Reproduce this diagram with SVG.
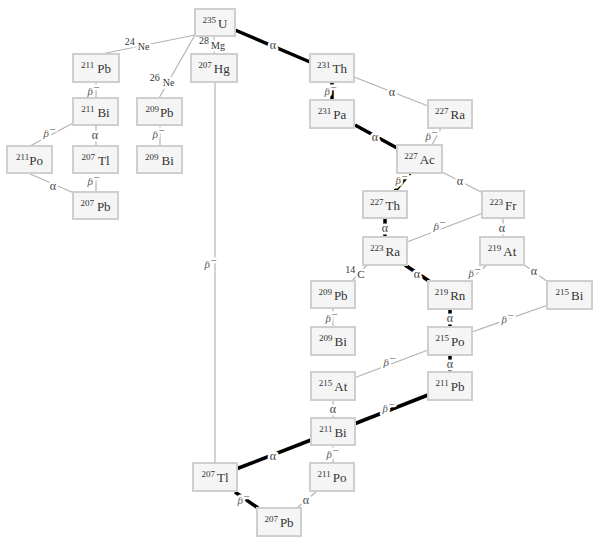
<svg xmlns="http://www.w3.org/2000/svg" width="596" height="545" viewBox="0 0 596 545">
<style>
.box{fill:#f5f5f5;stroke:#cfcfcf;stroke-width:2}
.nt{font-family:"Liberation Serif",serif;font-size:13px;fill:#333;text-anchor:middle}
.m{font-size:9px}
.thin{stroke:#b3b3b3;stroke-width:1.2;fill:none}
.thick{stroke:#000;stroke-width:3.5;fill:none}
.lbl{font-family:"Liberation Serif",serif;fill:#444;text-anchor:middle;paint-order:stroke;stroke:#fff;stroke-width:5px;stroke-linejoin:round}
.a{font-size:12px}
.b{font-size:11px;font-style:italic;fill:#555}
.s{font-size:10px;fill:#333}
</style>
<rect width="596" height="545" fill="#fff"/>
<g id="connectors">
<line class="thin" x1="195" y1="35" x2="101" y2="54"/>
<line class="thin" x1="195" y1="35" x2="159" y2="98"/>
<line class="thin" x1="214" y1="36" x2="214" y2="54"/>
<line class="thick" x1="235" y1="30" x2="310" y2="62"/>
<line class="thick" x1="332" y1="82" x2="332" y2="100"/>
<line class="thin" x1="354" y1="77" x2="428" y2="106"/>
<line class="thick" x1="355" y1="125" x2="397" y2="148"/>
<line class="thin" x1="441" y1="128" x2="432" y2="145"/>
<line class="thick" x1="410" y1="173" x2="395" y2="191"/>
<line class="thin" x1="442" y1="172" x2="483" y2="193"/>
<line class="thick" x1="385" y1="218" x2="385" y2="237"/>
<line class="thin" x1="483" y1="213" x2="407" y2="242"/>
<line class="thin" x1="503" y1="218" x2="503" y2="237"/>
<line class="thin" x1="367" y1="265" x2="352" y2="281"/>
<line class="thick" x1="405" y1="265" x2="429" y2="281"/>
<line class="thin" x1="487" y1="265" x2="468" y2="281"/>
<line class="thin" x1="523" y1="264" x2="548" y2="282"/>
<line class="thick" x1="450" y1="309" x2="450" y2="327"/>
<line class="thin" x1="548" y1="305" x2="472" y2="332"/>
<line class="thin" x1="333" y1="308" x2="333" y2="327"/>
<line class="thin" x1="428" y1="350" x2="354" y2="378"/>
<line class="thick" x1="450" y1="355" x2="450" y2="372"/>
<line class="thin" x1="333" y1="400" x2="333" y2="418"/>
<line class="thick" x1="428" y1="395" x2="354" y2="424"/>
<line class="thick" x1="311" y1="440" x2="236" y2="469"/>
<line class="thin" x1="333" y1="445" x2="333" y2="463"/>
<line class="thick" x1="235" y1="492" x2="258" y2="508"/>
<line class="thin" x1="316" y1="492" x2="297" y2="508"/>
<line class="thin" x1="215" y1="82" x2="215" y2="463"/>
<line class="thin" x1="96" y1="82" x2="96" y2="98"/>
<line class="thin" x1="75" y1="122" x2="30" y2="146"/>
<line class="thin" x1="96" y1="125" x2="96" y2="146"/>
<line class="thin" x1="28" y1="173" x2="74" y2="193"/>
<line class="thin" x1="96" y1="173" x2="96" y2="192"/>
<line class="thin" x1="160" y1="125" x2="160" y2="146"/>
<text class="lbl s" x="137" y="48"><tspan dy="-3">24</tspan><tspan dx="3" dy="5">Ne</tspan></text>
<text class="lbl s" x="162" y="84"><tspan dy="-3">26</tspan><tspan dx="3" dy="5">Ne</tspan></text>
<text class="lbl s" x="212" y="47"><tspan dy="-3">28</tspan><tspan dx="2" dy="5">Mg</tspan></text>
<text class="lbl a" x="273" y="49">α</text>
<text class="lbl b" x="331" y="95">β<tspan dy="-4">−</tspan></text>
<text class="lbl a" x="392" y="96">α</text>
<text class="lbl a" x="375" y="141">α</text>
<text class="lbl b" x="432" y="140">β<tspan dy="-4">−</tspan></text>
<text class="lbl b" x="402" y="184">β<tspan dy="-4">−</tspan></text>
<text class="lbl a" x="460" y="185">α</text>
<text class="lbl a" x="385" y="232">α</text>
<text class="lbl b" x="440" y="230">β<tspan dy="-4">−</tspan></text>
<text class="lbl a" x="502" y="232">α</text>
<text class="lbl s" x="355" y="276"><tspan dy="-3">14</tspan><tspan dx="2" dy="5" font-size="11">C</tspan></text>
<text class="lbl a" x="417" y="278">α</text>
<text class="lbl b" x="475" y="277">β<tspan dy="-4">−</tspan></text>
<text class="lbl a" x="534" y="275">α</text>
<text class="lbl a" x="450" y="322">α</text>
<text class="lbl b" x="508" y="323">β<tspan dy="-4">−</tspan></text>
<text class="lbl b" x="332" y="322">β<tspan dy="-4">−</tspan></text>
<text class="lbl b" x="390" y="366">β<tspan dy="-4">−</tspan></text>
<text class="lbl a" x="450" y="368">α</text>
<text class="lbl a" x="333" y="413">α</text>
<text class="lbl b" x="389" y="412">β<tspan dy="-4">−</tspan></text>
<text class="lbl a" x="273" y="460">α</text>
<text class="lbl b" x="333" y="458">β<tspan dy="-4">−</tspan></text>
<text class="lbl b" x="244" y="504">β<tspan dy="-4">−</tspan></text>
<text class="lbl a" x="306" y="504">α</text>
<text class="lbl b" x="211" y="268">β<tspan dy="-4">−</tspan></text>
<text class="lbl b" x="94" y="95">β<tspan dy="-4">−</tspan></text>
<text class="lbl b" x="50" y="137">β<tspan dy="-4">−</tspan></text>
<text class="lbl a" x="95" y="139">α</text>
<text class="lbl a" x="53" y="190">α</text>
<text class="lbl b" x="94" y="185">β<tspan dy="-4">−</tspan></text>
<text class="lbl b" x="159" y="138">β<tspan dy="-4">−</tspan></text>
</g>
<g id="n-U235"><rect class="box" x="195" y="9" width="40" height="27"/><text class="nt" x="215" y="28"><tspan class="m" dy="-5">235</tspan><tspan dx="2" dy="5">U</tspan></text></g>
<g id="n-Hg207"><rect class="box" x="191" y="54" width="46" height="28"/><text class="nt" x="214" y="73"><tspan class="m" dy="-5">207</tspan><tspan dx="2" dy="5">Hg</tspan></text></g>
<g id="n-Th231"><rect class="box" x="310" y="54" width="44" height="28"/><text class="nt" x="332" y="73"><tspan class="m" dy="-5">231</tspan><tspan dx="2" dy="5">Th</tspan></text></g>
<g id="n-Pa231"><rect class="box" x="310" y="100" width="44" height="28"/><text class="nt" x="332" y="119"><tspan class="m" dy="-5">231</tspan><tspan dx="2" dy="5">Pa</tspan></text></g>
<g id="n-Ra227"><rect class="box" x="428" y="100" width="44" height="28"/><text class="nt" x="450" y="119"><tspan class="m" dy="-5">227</tspan><tspan dx="2" dy="5">Ra</tspan></text></g>
<g id="n-Ac227"><rect class="box" x="397" y="145" width="45" height="28"/><text class="nt" x="419.5" y="164"><tspan class="m" dy="-5">227</tspan><tspan dx="2" dy="5">Ac</tspan></text></g>
<g id="n-Th227"><rect class="box" x="363" y="191" width="44" height="27"/><text class="nt" x="385" y="210"><tspan class="m" dy="-5">227</tspan><tspan dx="2" dy="5">Th</tspan></text></g>
<g id="n-Fr223"><rect class="box" x="482" y="191" width="42" height="27"/><text class="nt" x="503" y="210"><tspan class="m" dy="-5">223</tspan><tspan dx="2" dy="5">Fr</tspan></text></g>
<g id="n-Ra223"><rect class="box" x="363" y="237" width="44" height="28"/><text class="nt" x="385" y="256"><tspan class="m" dy="-5">223</tspan><tspan dx="2" dy="5">Ra</tspan></text></g>
<g id="n-At219"><rect class="box" x="480" y="237" width="44" height="28"/><text class="nt" x="502" y="256"><tspan class="m" dy="-5">219</tspan><tspan dx="2" dy="5">At</tspan></text></g>
<g id="n-Rn219"><rect class="box" x="428" y="281" width="44" height="28"/><text class="nt" x="450" y="300"><tspan class="m" dy="-5">219</tspan><tspan dx="2" dy="5">Rn</tspan></text></g>
<g id="n-Bi215"><rect class="box" x="547" y="281" width="45" height="28"/><text class="nt" x="569.5" y="300"><tspan class="m" dy="-5">215</tspan><tspan dx="2" dy="5">Bi</tspan></text></g>
<g id="n-Pb209b"><rect class="box" x="311" y="281" width="44" height="27"/><text class="nt" x="333" y="300"><tspan class="m" dy="-5">209</tspan><tspan dx="2" dy="5">Pb</tspan></text></g>
<g id="n-Bi209b"><rect class="box" x="311" y="327" width="44" height="28"/><text class="nt" x="333" y="346"><tspan class="m" dy="-5">209</tspan><tspan dx="2" dy="5">Bi</tspan></text></g>
<g id="n-Po215"><rect class="box" x="428" y="327" width="44" height="28"/><text class="nt" x="450" y="346"><tspan class="m" dy="-5">215</tspan><tspan dx="2" dy="5">Po</tspan></text></g>
<g id="n-At215"><rect class="box" x="311" y="372" width="44" height="28"/><text class="nt" x="333" y="391"><tspan class="m" dy="-5">215</tspan><tspan dx="2" dy="5">At</tspan></text></g>
<g id="n-Pb211b"><rect class="box" x="428" y="372" width="44" height="28"/><text class="nt" x="450" y="391"><tspan class="m" dy="-5">211</tspan><tspan dx="2" dy="5">Pb</tspan></text></g>
<g id="n-Bi211b"><rect class="box" x="311" y="418" width="44" height="27"/><text class="nt" x="333" y="437"><tspan class="m" dy="-5">211</tspan><tspan dx="2" dy="5">Bi</tspan></text></g>
<g id="n-Tl207b"><rect class="box" x="193" y="463" width="44" height="28"/><text class="nt" x="215" y="482"><tspan class="m" dy="-5">207</tspan><tspan dx="2" dy="5">Tl</tspan></text></g>
<g id="n-Po211b"><rect class="box" x="310" y="463" width="44" height="28"/><text class="nt" x="332" y="482"><tspan class="m" dy="-5">211</tspan><tspan dx="2" dy="5">Po</tspan></text></g>
<g id="n-Pb207b"><rect class="box" x="257" y="508" width="44" height="28"/><text class="nt" x="279" y="527"><tspan class="m" dy="-5">207</tspan><tspan dx="2" dy="5">Pb</tspan></text></g>
<g id="n-Pb211a"><rect class="box" x="73" y="54" width="46" height="28"/><text class="nt" x="96" y="73"><tspan class="m" dy="-5">211</tspan><tspan dx="3" dy="5">Pb</tspan></text></g>
<g id="n-Bi211a"><rect class="box" x="73" y="98" width="45" height="27"/><text class="nt" x="95.5" y="117"><tspan class="m" dy="-5">211</tspan><tspan dx="3" dy="5">Bi</tspan></text></g>
<g id="n-Pb209a"><rect class="box" x="137" y="98" width="45" height="27"/><text class="nt" x="159.5" y="117"><tspan class="m" dy="-5">209</tspan><tspan dx="1" dy="5">Pb</tspan></text></g>
<g id="n-Po211a"><rect class="box" x="7" y="146" width="45" height="27"/><text class="nt" x="29.5" y="165"><tspan class="m" dy="-5">211</tspan><tspan dy="5">Po</tspan></text></g>
<g id="n-Tl207a"><rect class="box" x="73" y="146" width="45" height="27"/><text class="nt" x="95.5" y="165"><tspan class="m" dy="-5">207</tspan><tspan dx="3" dy="5">Tl</tspan></text></g>
<g id="n-Bi209a"><rect class="box" x="137" y="146" width="45" height="27"/><text class="nt" x="159.5" y="165"><tspan class="m" dy="-5">209</tspan><tspan dx="3" dy="5">Bi</tspan></text></g>
<g id="n-Pb207a"><rect class="box" x="73" y="192" width="45" height="27"/><text class="nt" x="95.5" y="211"><tspan class="m" dy="-5">207</tspan><tspan dx="3" dy="5">Pb</tspan></text></g>
</svg>
